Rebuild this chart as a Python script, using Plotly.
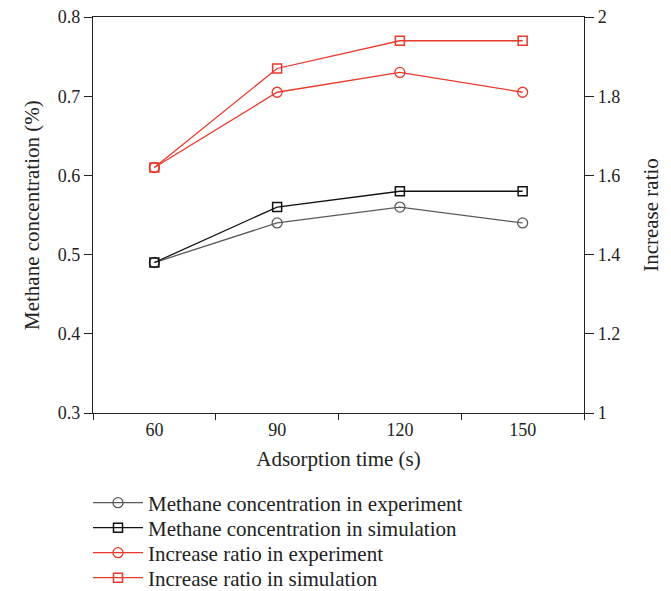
import plotly.graph_objects as go

times = ["60", "90", "120", "150"]
conc_exp = [0.49, 0.54, 0.56, 0.54]
conc_sim = [0.49, 0.56, 0.58, 0.58]
ratio_exp = [1.62, 1.81, 1.86, 1.81]
ratio_sim = [1.62, 1.87, 1.94, 1.94]

left_ticks = [0.3, 0.4, 0.5, 0.6, 0.7, 0.8]
right_ticks = [1, 1.2, 1.4, 1.6, 1.8, 2]

GRAY = "#5a5a5a"
BLACK = "#111111"
RED = "#e8392b"
FONT = "Liberation Serif"
TXT = "#222222"

W, H = 671, 591
ML, MR, MT, MB = 93, 87, 17, 178
legend_rows = [503, 528, 553, 578]

fig = go.Figure()
fig.add_trace(go.Scatter(x=times, y=conc_exp, mode="lines+markers", legend="legend",
                         name="Methane concentration in experiment",
                         line=dict(color=GRAY, width=1.3),
                         marker=dict(symbol="circle-open", size=10, color=GRAY, line=dict(width=1.3))))
fig.add_trace(go.Scatter(x=times, y=conc_sim, mode="lines+markers", legend="legend2",
                         name="Methane concentration in simulation",
                         line=dict(color=BLACK, width=1.3),
                         marker=dict(symbol="square-open", size=9, color=BLACK, line=dict(width=1.5))))
fig.add_trace(go.Scatter(x=times, y=ratio_exp, mode="lines+markers", yaxis="y2", legend="legend3",
                         name="Increase ratio in experiment",
                         line=dict(color=RED, width=1.3),
                         marker=dict(symbol="circle-open", size=10, color=RED, line=dict(width=1.3))))
fig.add_trace(go.Scatter(x=times, y=ratio_sim, mode="lines+markers", yaxis="y2", legend="legend4",
                         name="Increase ratio in simulation",
                         line=dict(color=RED, width=1.3),
                         marker=dict(symbol="square-open", size=9, color=RED, line=dict(width=1.5))))


def leg(row):
    return dict(x=88 / W, xanchor="left", xref="container",
                y=1 - row / H, yanchor="middle", yref="container",
                font=dict(family=FONT, size=21, color=TXT),
                itemwidth=50, bgcolor="rgba(0,0,0,0)")


pw = W - ML - MR
fig.update_layout(
    width=W, height=H,
    margin=dict(l=ML, r=MR, t=MT, b=MB, autoexpand=False),
    paper_bgcolor="white", plot_bgcolor="white",
    font=dict(family=FONT, size=18, color=TXT),
    showlegend=True,
    legend=leg(legend_rows[0]),
    legend2=leg(legend_rows[1]),
    legend3=leg(legend_rows[2]),
    legend4=leg(legend_rows[3]),
    xaxis=dict(type="category", range=[-0.5, 3.5], tickson="boundaries",
               showline=True, linecolor=TXT, linewidth=1.2, mirror=True,
               ticks="outside", ticklen=6, tickcolor=TXT, tickwidth=1.2,
               showgrid=False, zeroline=False,
               title=dict(text="Adsorption time (s)", standoff=12, font=dict(family=FONT, size=21))),
    yaxis=dict(range=[0.3, 0.8], tickvals=left_ticks, ticktext=[f"{v:.1f}" for v in left_ticks],
               showline=True, linecolor=TXT, linewidth=1.2,
               ticks="outside", ticklen=8, tickcolor=TXT, tickwidth=1.2,
               showgrid=False, zeroline=False),
    yaxis2=dict(range=[1, 2], tickvals=right_ticks, ticktext=["1", "1.2", "1.4", "1.6", "1.8", "2"],
                overlaying="y", side="right",
                showline=True, linecolor=TXT, linewidth=1.2,
                ticks="outside", ticklen=9, tickcolor=TXT, tickwidth=1.2,
                showgrid=False, zeroline=False,
                title=dict(text="Increase ratio", standoff=24, font=dict(family=FONT, size=21))),
    annotations=[dict(text="Methane concentration (%)", textangle=-90,
                      xref="paper", yref="paper", x=(32 - ML) / pw, y=0.5,
                      xanchor="center", yanchor="middle", showarrow=False,
                      font=dict(family=FONT, size=21, color=TXT))],
)

fig.write_html("out.html")
